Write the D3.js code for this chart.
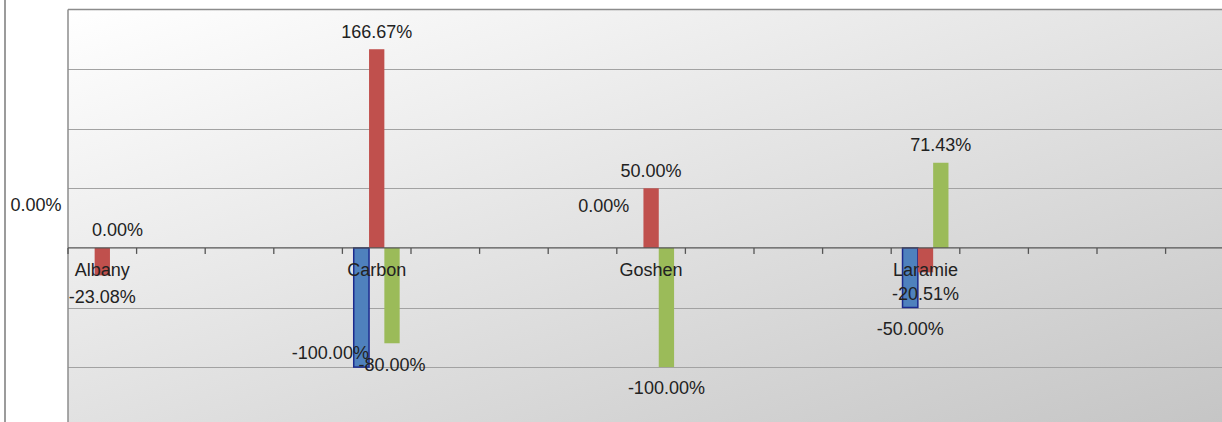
<!DOCTYPE html>
<html>
<head>
<meta charset="utf-8">
<script src="https://cdn.jsdelivr.net/npm/d3@7"></script>
<style>
  html, body { margin: 0; padding: 0; background: #ffffff; }
  svg { display: block; }
  text { font-family: "Liberation Sans", Arial, sans-serif; font-size: 18px; fill: #222; }
</style>
</head>
<body>
<svg id="chart" width="1222" height="422"></svg>
<script>
// ---- data ----
const categories = ["Albany", "Carbon", "Goshen", "Laramie"];
const slotLabels = ["Albany", "", "", "", "Carbon", "", "", "", "Goshen", "", "", "", "Laramie", "", "", "", "", ""];
const seriesNames = ["Series A", "Series B", "Series C"];
const blueValues  = [0, -100, 0, -50];
const redValues   = [-23.08, 166.67, 50, -20.51];
const greenValues = [0, -80, -100, 71.43];
const gridTicks = [-150, -100, -50, 0, 50, 100, 150, 200];

// ---- layout / style (not data) ----
const W = 1222, H = 422;
const plot = { left: 68, top: 9.5, bottom: 426.7, slot: 68.6 };
const colors = { "Series A": "#4f81bd", "Series B": "#c0504d", "Series C": "#9bbb59" };
const strokes = { "Series A": "#1c2a8e", "Series B": "none", "Series C": "none" };
// label nudges for overlapping labels (dx, dy in px)
const nudges = {
  "Albany|Series A": [-51, -25],
  "Carbon|Series A": [-31, -35],
  "Goshen|Series A": [-32, -24]
};

const svg = d3.select("#chart");
const plotRight = plot.left + slotLabels.length * plot.slot;

const x = d3.scaleBand()
  .domain(d3.range(slotLabels.length))
  .range([plot.left, plotRight])
  .padding(0);

const xs = d3.scaleBand()
  .domain(seriesNames)
  .range([0, x.bandwidth()])
  .paddingInner(0)
  .paddingOuter(0.74);

const y = d3.scaleLinear()
  .domain([-150, 200])
  .range([plot.bottom, plot.top]);

// background gradient
const defs = svg.append("defs");
const grad = defs.append("linearGradient").attr("id", "bg")
  .attr("x1", 0).attr("y1", 0).attr("x2", 1).attr("y2", 1);
grad.append("stop").attr("offset", "0%").attr("stop-color", "#ffffff");
grad.append("stop").attr("offset", "50%").attr("stop-color", "#e1e1e1");
grad.append("stop").attr("offset", "100%").attr("stop-color", "#c3c3c3");

svg.append("rect")
  .attr("x", plot.left).attr("y", plot.top)
  .attr("width", plotRight - plot.left).attr("height", plot.bottom - plot.top)
  .attr("fill", "url(#bg)");

// outer frame line at left
svg.append("line")
  .attr("x1", 5).attr("x2", 5).attr("y1", 0).attr("y2", H)
  .attr("stroke", "#7a7a7a").attr("stroke-width", 1.5);

// gridlines
svg.append("g").selectAll("line")
  .data(gridTicks.filter(d => d !== 0 && d !== 200))
  .join("line")
  .attr("x1", plot.left).attr("x2", plotRight)
  .attr("y1", d => Math.round(y(d)) + 0.5).attr("y2", d => Math.round(y(d)) + 0.5)
  .attr("stroke", "#a2a2a2").attr("stroke-width", 1);

// plot border (top + left)
svg.append("line")
  .attr("x1", plot.left).attr("x2", plotRight)
  .attr("y1", y(200)).attr("y2", y(200))
  .attr("stroke", "#8c8c8c").attr("stroke-width", 1.5);
svg.append("line")
  .attr("x1", plot.left).attr("x2", plot.left)
  .attr("y1", y(200)).attr("y2", plot.bottom)
  .attr("stroke", "#8c8c8c").attr("stroke-width", 1.5);

// bars
const rows = [];
categories.forEach((c, i) => {
  const vals = [blueValues[i], redValues[i], greenValues[i]];
  seriesNames.forEach((s, j) => rows.push({ cat: c, slot: slotLabels.indexOf(c), series: s, value: vals[j] }));
});

svg.append("g").selectAll("rect")
  .data(rows.filter(d => d.value !== 0))
  .join("rect")
  .attr("x", d => x(d.slot) + xs(d.series))
  .attr("width", xs.bandwidth())
  .attr("y", d => Math.min(y(d.value), y(0)))
  .attr("height", d => Math.abs(y(d.value) - y(0)))
  .attr("fill", d => colors[d.series])
  .attr("stroke", d => strokes[d.series])
  .attr("stroke-width", 1.5);

// zero axis line + ticks
svg.append("line")
  .attr("x1", plot.left).attr("x2", plotRight)
  .attr("y1", y(0)).attr("y2", y(0))
  .attr("stroke", "#555").attr("stroke-width", 1.3);

svg.append("g").selectAll("line")
  .data(d3.range(slotLabels.length + 1))
  .join("line")
  .attr("x1", i => plot.left + i * x.step()).attr("x2", i => plot.left + i * x.step())
  .attr("y1", y(0)).attr("y2", y(0) + 6)
  .attr("stroke", "#555").attr("stroke-width", 1.3);

// category labels
svg.append("g").selectAll("text")
  .data(slotLabels.map((l, i) => ({ l, i })).filter(d => d.l !== ""))
  .join("text")
  .attr("x", d => x(d.i) + x.bandwidth() / 2)
  .attr("y", y(0) + 22)
  .attr("dy", "0.35em")
  .attr("text-anchor", "middle")
  .text(d => d.l);

// value labels
const fmt = v => v.toFixed(2) + "%";
svg.append("g").selectAll("text")
  .data(rows)
  .join("text")
  .attr("x", d => x(d.slot) + xs(d.series) + xs.bandwidth() / 2 + (nudges[d.cat + "|" + d.series] || [0, 0])[0])
  .attr("y", d => (d.value >= 0 ? y(d.value) - 18 : y(d.value) + 21) + (nudges[d.cat + "|" + d.series] || [0, 0])[1])
  .attr("dy", "0.35em")
  .attr("text-anchor", "middle")
  .text(d => fmt(d.value));
</script>
</body>
</html>
